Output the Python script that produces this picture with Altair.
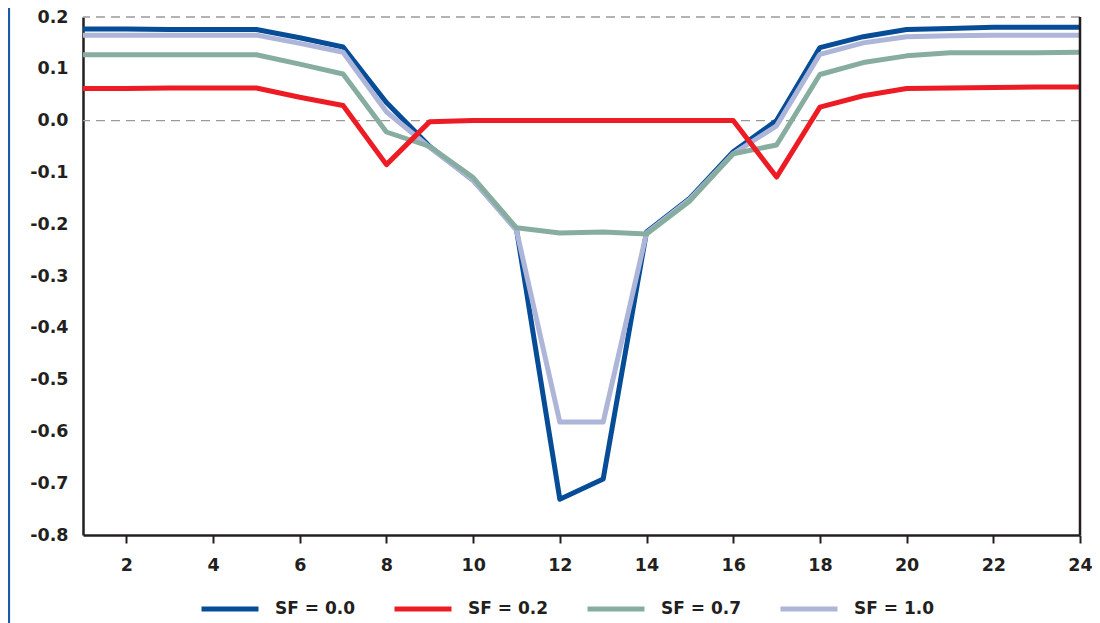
import altair as alt
import pandas as pd

hours = list(range(1, 25))

sf00 = [0.177, 0.177, 0.176, 0.176, 0.176, 0.160, 0.142, 0.035, -0.050, -0.115,
        -0.210, -0.731, -0.692, -0.215, -0.150, -0.060, 0.000, 0.141, 0.162, 0.176,
        0.178, 0.180, 0.180, 0.180]
sf02 = [0.062, 0.062, 0.063, 0.063, 0.063, 0.045, 0.029, -0.085, -0.002, 0.000,
        0.000, 0.000, 0.000, 0.000, 0.000, 0.000, -0.109, 0.026, 0.048, 0.062,
        0.063, 0.064, 0.065, 0.065]
sf07 = [0.127, 0.127, 0.127, 0.127, 0.127, 0.109, 0.090, -0.022, -0.050, -0.110,
        -0.207, -0.217, -0.215, -0.219, -0.155, -0.064, -0.047, 0.089, 0.112, 0.125,
        0.131, 0.131, 0.131, 0.132]
sf10 = [0.165, 0.165, 0.165, 0.165, 0.165, 0.149, 0.132, 0.017, -0.052, -0.115,
        -0.212, -0.582, -0.582, -0.217, -0.152, -0.064, -0.010, 0.128, 0.150, 0.162,
        0.164, 0.165, 0.165, 0.165]

series_names = ["SF = 0.0", "SF = 0.2", "SF = 0.7", "SF = 1.0"]
series_colors = ["#064c97", "#ed1c24", "#87ada0", "#adb5d9"]
x_ticks = [2, 4, 6, 8, 10, 12, 14, 16, 18, 20, 22, 24]
y_ticks = [-0.8, -0.7, -0.6, -0.5, -0.4, -0.3, -0.2, -0.1, 0.0, 0.1, 0.2]
dashed_levels = [0.2, 0.0]

rows = []
for name, vals in zip(series_names, [sf00, sf02, sf07, sf10]):
    for h, v in zip(hours, vals):
        rows.append({"x": h, "y": v, "series": name})
df = pd.DataFrame(rows)

FONT = "DejaVu Sans"
INK = "#231f20"

x_enc = alt.X(
    "x:Q",
    scale=alt.Scale(domain=[1, 24], nice=False, zero=False),
    axis=alt.Axis(
        values=x_ticks, title=None, grid=False, labelFlush=False, labelOverlap=False,
        labelFont=FONT, labelFontWeight="bold", labelFontSize=17.5, labelColor=INK,
        labelPadding=13, tickSize=8, tickWidth=2, tickColor=INK,
        domainColor=INK, domainWidth=2.5,
    ),
)
y_enc = alt.Y(
    "y:Q",
    scale=alt.Scale(domain=[-0.8, 0.2], nice=False, zero=False),
    axis=alt.Axis(
        values=y_ticks, title=None, grid=False, ticks=False, tickSize=0,
        format=".1f", labelExpr="replace(datum.label, '\u2212', '-')",
        labelFont=FONT, labelFontWeight="bold", labelFontSize=17.5, labelColor=INK,
        labelPadding=15, labelFlush=False, labelOverlap=False,
        domainColor=INK, domainWidth=2.5,
    ),
)
color_enc = alt.Color(
    "series:N",
    scale=alt.Scale(domain=series_names, range=series_colors),
    legend=alt.Legend(
        title=None, orient="none", legendX=116, legendY=561, direction="horizontal",
        columns=4, symbolType="stroke", symbolSize=3249, symbolStrokeWidth=5,
        labelFont=FONT, labelFontWeight="bold", labelFontSize=17, labelColor=INK,
        labelOffset=14, columnPadding=28,
    ),
)

grid = alt.Chart(pd.DataFrame({"y": dashed_levels})).mark_rule(
    color="#9a9a9a", strokeWidth=1.3, strokeDash=[9, 6]
).encode(y=alt.Y("y:Q"))

draw_order = ["SF = 0.0", "SF = 1.0", "SF = 0.7", "SF = 0.2"]
lines = []
for name in draw_order:
    lines.append(
        alt.Chart(df)
        .transform_filter(alt.datum.series == name)
        .mark_line(strokeWidth=5, strokeJoin="round")
        .encode(x=x_enc, y=y_enc, color=color_enc)
    )

right_edge = alt.Chart(pd.DataFrame({"x": [24]})).mark_rule(
    color=INK, strokeWidth=2.5
).encode(x=alt.X("x:Q"))

side_bar = alt.Chart(pd.DataFrame({"a": [0]})).mark_rule(
    color="#1c5aa6", strokeWidth=2.2
).encode(x=alt.value(-74), y=alt.value(-9), y2=alt.value(606))

chart = alt.layer(grid, *lines, right_edge, side_bar).properties(
    width=997,
    height=518,
    autosize=alt.AutoSizeParams(type="none"),
    padding={"left": 75, "top": 9, "right": 12, "bottom": 88},
).configure_view(stroke=None)

chart.save("out.html", embed_options={"renderer": "svg", "actions": False})
